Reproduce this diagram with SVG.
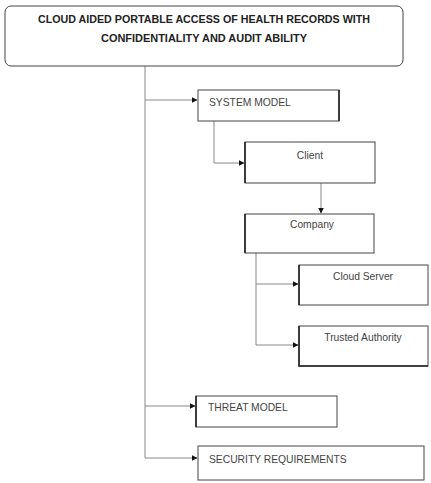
<svg xmlns="http://www.w3.org/2000/svg" width="431" height="483" viewBox="0 0 431 483">
<defs>
<marker id="arr" markerWidth="6" markerHeight="6" refX="5.5" refY="3" orient="auto" markerUnits="userSpaceOnUse">
<path d="M0,0 L6,3 L0,6 Z" fill="#111"/>
</marker>
<style>
.box{fill:#fff;stroke:#444;stroke-width:1}
.sh{fill:none;stroke:#222;stroke-width:1.6}
.ln{fill:none;stroke:#888;stroke-width:1}
.t{font-family:"Liberation Sans",Arial,sans-serif;font-size:10.3px;fill:#444}
.title{font-family:"Liberation Sans",Arial,sans-serif;font-size:10.5px;font-weight:bold;fill:#222;text-anchor:middle}
</style>
</defs>
<rect width="431" height="483" fill="#fff"/>
<g id="connectors">
<path class="ln" d="M145,66 V458"/>
<path class="ln" d="M145,100 H197" marker-end="url(#arr)"/>
<path class="ln" d="M214,121 V163 H244" marker-end="url(#arr)"/>
<path class="ln" d="M321,183 V213" marker-end="url(#arr)"/>
<path class="ln" d="M256,253 V345 H298" marker-end="url(#arr)"/>
<path class="ln" d="M256,284 H298" marker-end="url(#arr)"/>
<path class="ln" d="M145,406 H195" marker-end="url(#arr)"/>
<path class="ln" d="M145,458 H197" marker-end="url(#arr)"/>
</g>
<g id="title">
<rect class="box" x="5" y="6" width="398" height="60" rx="6"/>
<text class="title" x="204" y="23" textLength="332" lengthAdjust="spacingAndGlyphs">CLOUD AIDED PORTABLE ACCESS OF HEALTH RECORDS WITH</text>
<text class="title" x="204" y="42" textLength="206" lengthAdjust="spacingAndGlyphs">CONFIDENTIALITY AND AUDIT ABILITY</text>
</g>
<g id="system-model">
<rect class="box" x="198" y="90" width="141" height="31"/>
<path class="sh" d="M339,90 V121"/>
<text class="t" x="209" y="106">SYSTEM MODEL</text>
</g>
<g id="client">
<rect class="box" x="245" y="142" width="130" height="41"/>
<path class="sh" d="M245,142 V183"/>
<text class="t" x="310" y="159" text-anchor="middle">Client</text>
</g>
<g id="company">
<rect class="box" x="245" y="214" width="129" height="39"/>
<path class="sh" d="M245,214 V253"/>
<text class="t" x="312" y="228" text-anchor="middle">Company</text>
</g>
<g id="cloud-server">
<rect class="box" x="299" y="265" width="129" height="40"/>
<path class="sh" d="M299,265 V305"/>
<text class="t" x="363" y="280" text-anchor="middle">Cloud Server</text>
</g>
<g id="trusted-authority">
<rect class="box" x="299" y="326" width="129" height="40"/>
<path class="sh" d="M299,326 V366 H428"/>
<text class="t" x="363" y="341" text-anchor="middle">Trusted Authority</text>
</g>
<g id="threat-model">
<rect class="box" x="196" y="396" width="141" height="31"/>
<path class="sh" d="M196,396 V427"/>
<text class="t" x="208" y="411">THREAT MODEL</text>
</g>
<g id="security-requirements">
<rect class="box" x="198" y="446" width="226" height="34"/>
<text class="t" x="209" y="463">SECURITY REQUIREMENTS</text>
</g>
</svg>
